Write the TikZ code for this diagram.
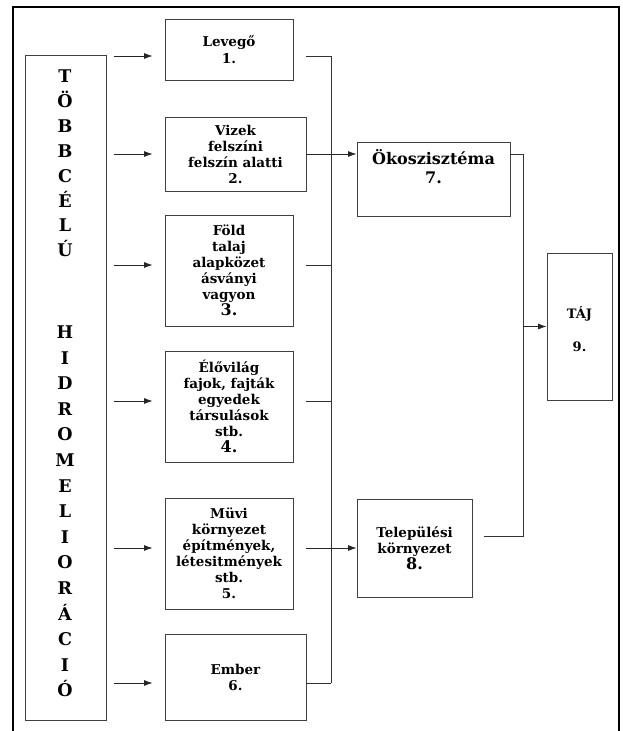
\documentclass[tikz,border=0pt]{standalone}
\usepackage{fontspec}
\setmainfont{DejaVu Serif}
\usetikzlibrary{arrows.meta}

\begin{document}
\begin{tikzpicture}[x=1pt, y=-1pt,
    box/.style={draw=black!75, line width=0.9pt, align=center, inner sep=2pt,
                font=\fontsize{13.5}{16}\selectfont\bfseries},
    letter/.style={font=\fontsize{17.5}{18}\selectfont\bfseries, anchor=base, inner sep=0pt},
    arr/.style={-{Latex[length=8.5pt,width=6pt]}, line width=0.8pt, black!85},
    wire/.style={line width=0.8pt, black!80}]
  \useasboundingbox (0,0) rectangle (623,731);
  % outer frame, open at the bottom
  \draw[line width=1.4pt] (13,731) -- (13,7) -- (619,7) -- (619,731);

  % left column
  \node[draw=black!75, line width=0.9pt, minimum width=81, minimum height=665] (multi) at (65.5,387.5) {};
  \foreach \ch [count=\i] in {T,Ö,B,B,C,É,L,Ú}
    \node[letter] (word1-\i) at (65, 82.5+24.9*\i-24.9) {\ch};
  \foreach \ch [count=\i] in {H,I,D,R,O,M,E,L,I,O,R,Á,C,I,Ó}
    \node[letter] (word2-\i) at (65, 338.5+25.6*\i-25.6) {\ch};

  % middle column
  \node[box, minimum width=128, minimum height=61] (b1) at (229,49.5) {Levegő\\[1pt]1.};
  \node[box, minimum width=141, minimum height=74] (b2) at (235.5,154) {Vizek\\felszíni\\felszín alatti\\2.};
  \node[box, minimum width=128, minimum height=111] (b3) at (229,270.5)
    {Föld\\talaj\\alapközet\\ásványi\\vagyon\\{\fontsize{16}{15}\selectfont 3.}};
  \node[box, minimum width=128, minimum height=111] (b4) at (229,406.5)
    {Élővilág\\fajok, fajták\\egyedek\\társulások\\stb.\\{\fontsize{16}{15}\selectfont 4.}};
  \node[box, minimum width=128, minimum height=111] (b5) at (229,553.5)
    {Müvi\\környezet\\építmények,\\létesitmények\\stb.\\5.};
  \node[box, minimum width=141, minimum height=86] (b6) at (235.5,677) {Ember\\6.};

  % right side
  \node[box, font=\fontsize{16}{19}\selectfont\bfseries, minimum width=153, minimum height=74] (eco) at (433.5,179)
    {Ökoszisztéma\\7.\\[0pt]\strut};
  \node[box, font=\fontsize{13.5}{16}\selectfont\bfseries, minimum width=115, minimum height=98] (town) at (414.5,548)
    {Települési\\környezet\\{\fontsize{16}{17}\selectfont 8.}};
  \node[box, font=\fontsize{13}{33}\selectfont\bfseries, minimum width=65, minimum height=147] (taj) at (579.5,326.5)
    {\rule{0pt}{17pt}TÁJ\\9.};

  % rows and buses
  \foreach \i/\y in {1/56, 2/154, 3/265, 4/401, 5/548, 6/683}
    \coordinate (row\i) at (0,\y);
  \coordinate (wx) at (306,0);
  \coordinate (bus) at (331,0);
  \coordinate (k1) at (523,154);
  \coordinate (k2) at (523,536);

  \foreach \i in {1,...,6}
    \draw[arr, shorten <=8pt, shorten >=12pt] (multi.east |- row\i) -- (b\i.west |- row\i);
  \foreach \i in {1,3,4,6}
    \draw[wire] (wx |- row\i) -- (bus |- row\i);
  \draw[wire] (bus |- row1) -- (bus |- row6);
  \draw[arr] (wx |- row2) -- (eco.west |- row2);
  \draw[arr] (wx |- row5) -- (town.west |- row5);

  \draw[wire] (eco.east |- k1) -- (k1) -- (k2) -- ([xshift=12pt]town.east |- k2);
  \draw[arr] (k1 |- taj.west) -- (taj.west);
\end{tikzpicture}
\end{document}
